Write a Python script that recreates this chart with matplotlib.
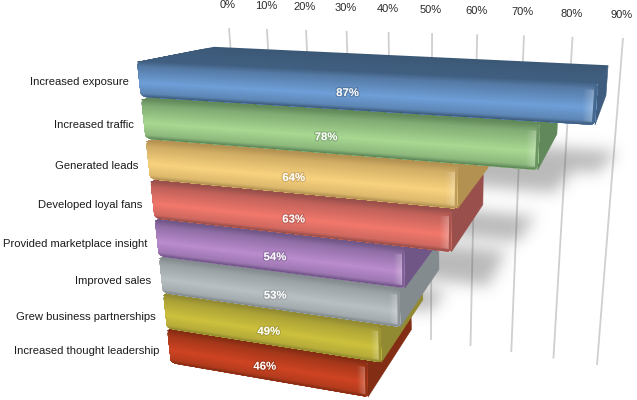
import numpy as np
import matplotlib
matplotlib.use('Agg')
import matplotlib.pyplot as plt
import matplotlib.patheffects as pe
from matplotlib.collections import PolyCollection
from matplotlib.colors import to_rgb
from matplotlib.patches import Polygon
from matplotlib.path import Path

plt.rcParams['font.family'] = ['Liberation Sans', 'DejaVu Sans']

# data
categories = ['Increased exposure', 'Increased traffic', 'Generated leads', 'Developed loyal fans',
              'Provided marketplace insight', 'Improved sales', 'Grew business partnerships',
              'Increased thought leadership']
values = [87, 78, 64, 63, 54, 53, 49, 46]
tick_values = [0, 10, 20, 30, 40, 50, 60, 70, 80, 90]

light_colors = ['#6f9fd8', '#a9d892', '#f8d27e', '#f2786c', '#bb8cce', '#b9c0c4', '#cdc13c', '#cf4422']
dark_colors = ['#3a5674', '#587f54', '#ab8a4c', '#8f4a47', '#67507f', '#7d8589', '#8b8431', '#7b2a12']

# shadow extent per bar: reach past the bar end, start and height in rows
shadow_ext = [4, 6, 14, 10, 8]
shadow_top = [0.5, -0.05, 0.0, -0.15, -0.05]
shadow_h = [0.45, 0.5, 0.6, 0.85, 0.55]

VP = np.array([668.0, -43.0])  # vanishing point of the depth direction
DEPTH = 0.145
BAR_TOP = [0.19, 0.07, 0.07, 0.07, 0.07, 0.07, 0.07, 0.07]  # front face start inside its row


def homography(src, dst):
    a = []
    b = []
    for (x, y), (u, v) in zip(src, dst):
        a.append([x, y, 1, 0, 0, 0, -u*x, -u*y])
        a.append([0, 0, 0, x, y, 1, -v*x, -v*y])
        b += [u, v]
    return np.append(np.linalg.solve(np.array(a, float), np.array(b, float)), 1).reshape(3, 3)


H_front = homography([(0, 1), (87, 1), (46, 8), (0, 8)], [(141, 97), (595, 125), (368, 397), (171, 363)])
H_wall = homography([(0, 0), (90, 0), (90, 1), (50, 1)], [(229, 28), (623, 38), (597, 365), (431, 340)])


def project(H, v, r, depth=0.0):
    v, r = np.broadcast_arrays(np.asarray(v, float), np.asarray(r, float))
    p = H @ np.vstack([v.ravel(), r.ravel(), np.ones(v.size)])
    xy = (p[:2] / p[2]).T
    return xy + depth * (VP - xy)


def mix(c1, c2, t):
    return tuple(np.array(to_rgb(c1)) * (1 - t) + np.array(to_rgb(c2)) * t)


def rounded_front(v, r0, r1, rv=1.8, rr=0.1):
    a = np.linspace(0, np.pi / 2, 8)
    pts = []
    # corners: top left, top right, bottom right, bottom left
    pts += [(rv * (1 - np.cos(t)), r0 + rr * (1 - np.sin(t))) for t in a]
    pts += [(v - 0.5 * rv * (1 - np.sin(t)), r0 + rr * (1 - np.cos(t))) for t in a]
    pts += [(v - 0.5 * rv * (1 - np.cos(t)), r1 - rr * (1 - np.sin(t))) for t in a]
    pts += [(rv * (1 - np.sin(t)), r1 - rr * (1 - np.cos(t))) for t in a]
    return np.array(pts)


fig = plt.figure(figsize=(6.37, 4), dpi=100)
ax = fig.add_axes([0, 0, 1, 1])
ax.set_xlim(0, 637)
ax.set_ylim(400, 0)
ax.axis('off')

# gridlines on the back wall and their labels
for t in tick_values:
    line = project(H_wall, [t, t], [0, 1])
    ax.plot(line[:, 0], line[:, 1], color='#cfcfcf', lw=1.3, zorder=1, solid_capstyle='butt')
    lx, ly = line[0]
    ax.text(lx - 1, ly - 23, f'{t}%', ha='center', va='center', fontsize=8, color='#2b2b2b')

# soft floor shadow behind the bars
xx, yy = np.meshgrid(np.arange(637) + 0.5, np.arange(400) + 0.5)
grid = np.column_stack([xx.ravel(), yy.ravel()])
mask = np.zeros(xx.size, bool)
for i, ext in enumerate(shadow_ext):
    r0 = i + 1 + shadow_top[i]
    r1 = r0 + shadow_h[i]
    corners = project(H_front, [values[i] * 0.6, values[i] + ext, values[i] + ext - 3, values[i] * 0.6], [r0, r0, r1, r1])
    mask |= Path(corners).contains_points(grid)
mask = mask.reshape(xx.shape).astype(float)
kernel = np.exp(-0.5 * (np.arange(-24, 25) / 7.5) ** 2)
kernel /= kernel.sum()
mask = np.apply_along_axis(lambda m: np.convolve(m, kernel, mode='same'), 0, mask)
mask = np.apply_along_axis(lambda m: np.convolve(m, kernel, mode='same'), 1, mask)
rgba = np.zeros(mask.shape + (4,))
rgba[..., :3] = 0.35
rgba[..., 3] = mask * 0.42
ax.imshow(rgba, extent=(0, 637, 400, 0), zorder=2, aspect='auto', interpolation='bilinear')
ax.set_xlim(0, 637)
ax.set_ylim(400, 0)

# bars, last row first so that upper bars overlap lower ones
for i in range(len(values) - 1, -1, -1):
    v = values[i]
    light = light_colors[i]
    dark = dark_colors[i]
    z = 10 + (len(values) - i) * 2
    r0, r1 = i + BAR_TOP[i], i + 1.0

    # top face: each strip runs on to the front edge, so no seams show
    steps = np.linspace(DEPTH, 0, 13)
    front_edge = project(H_front, [0, v], [r0, r0])
    polys = []
    cols = []
    for k in range(12):
        a0 = project(H_front, [0, v], [r0, r0], steps[k])
        polys.append([a0[0], a0[1], front_edge[1], front_edge[0]])
        cols.append(mix(dark, light, 0.03 + 0.1 * k / 11))
    ax.add_collection(PolyCollection(polys, facecolors=cols, edgecolors='none', zorder=z))

    # right side face
    side = np.vstack([project(H_front, [v, v], [r0, r1], 0.0),
                      project(H_front, [v, v], [r1 - 0.12, r0], DEPTH)])
    ax.add_patch(Polygon(side, closed=True, fc=mix(dark, light, 0.1), ec=mix(dark, light, 0.1), lw=0.4, zorder=z))

    # front face, vertical gradient clipped to a rounded outline
    outline = Polygon(project(H_front, *rounded_front(v, r0 - 0.03, r1).T), closed=True, fc='none', ec='none',
                      transform=ax.transData)
    ax.add_patch(outline)
    stops_t = [0, 0.16, 0.6, 0.9, 1]
    stops_c = [np.array(mix(dark, light, f)) for f in (0.1, 0.5, 1.0, 0.65, 0.02)]
    rs = np.linspace(r0 - 0.03, r1, 41)
    bottom = project(H_front, [-1, v + 1], [r1, r1])
    polys = []
    cols = []
    for k in range(40):
        t = (k + 0.5) / 40
        c = [np.interp(t, stops_t, [s[n] for s in stops_c]) for n in range(3)]
        a0 = project(H_front, [-1, v + 1], [rs[k], rs[k]])
        polys.append([a0[0], a0[1], bottom[1], bottom[0]])
        cols.append(c)
    pc = PolyCollection(polys, facecolors=cols, edgecolors='none', zorder=z + 0.5)
    ax.add_collection(pc)
    pc.set_clip_path(outline)

    # highlight along the rounded right end
    vs = np.linspace(v - 2.2, v - 0.5, 7)
    polys = []
    alphas = []
    for k in range(6):
        a0 = project(H_front, [vs[k], vs[k + 1]], [r0 + 0.12, r0 + 0.12])
        a1 = project(H_front, [vs[k], vs[k + 1]], [r1 - 0.06, r1 - 0.06])
        polys.append([a0[0], a0[1], a1[1], a1[0]])
        alphas.append((1, 1, 1, 0.03 + 0.045 * k))
    pc = PolyCollection(polys, facecolors=alphas, edgecolors='none', zorder=z + 0.7)
    ax.add_collection(pc)
    pc.set_clip_path(outline)
    # end of the front face rolls over into the side
    end = np.vstack([project(H_front, [v - 0.5, v], [r0 + 0.05, r0 + 0.05]),
                     project(H_front, [v, v - 0.5], [r1, r1])])
    pc = Polygon(end, closed=True, fc=mix(dark, light, 0.25), ec='none', zorder=z + 0.8)
    ax.add_patch(pc)
    pc.set_clip_path(outline)

    # value label
    lx, ly = project(H_front, v / 2, i + 0.64)[0]
    ax.text(lx, ly, f'{v}%', ha='center', va='center', fontsize=8.2, fontweight='bold', color='white', zorder=z + 1,
            path_effects=[pe.withStroke(linewidth=1.6, foreground=dark, alpha=0.45)])

    # category label
    cx, cy = project(H_front, 0, i + 0.66)[0]
    ax.text(cx - 10.5, cy, categories[i], ha='right', va='center', fontsize=8.15, color='#1c1c1c', zorder=40)

fig.savefig('out.png', dpi=100)
